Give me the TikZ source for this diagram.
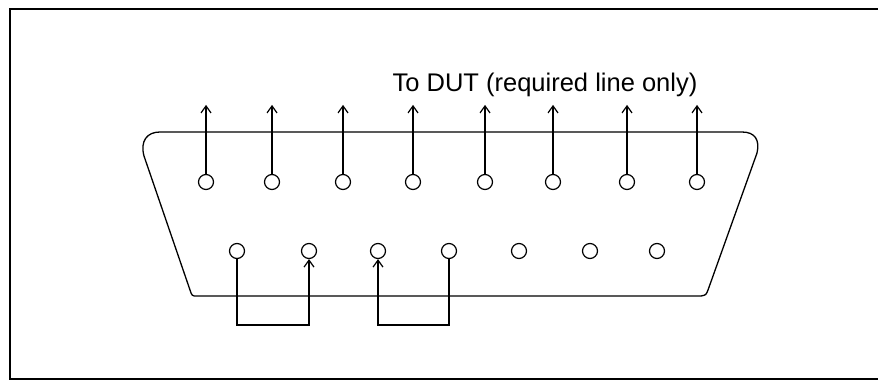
\documentclass[tikz,border=0pt]{standalone}
\usepackage{fontspec}
\setmainfont{Liberation Sans}
\usetikzlibrary{arrows.meta}
\tikzset{
    pin/.style={circle, draw, minimum size=15pt, inner sep=0pt, line width=1.2pt}, % 插针
    wire/.style={line width=1.3pt, -{Straight Barb[length=7pt, width=10pt, line width=1.2pt]}} % 连线
}

\begin{document}
\begin{tikzpicture}[x=1pt, y=-1pt]
            \useasboundingbox (0,0) rectangle (878,382);
            \draw[line width=2.8pt] (884,9) -- (10,9) -- (10,379) -- (884,379);

            % 连接器外形
            \draw[line width=1.3pt] (160,132) -- (742,132) .. controls (755,132) and (760,140) .. (757,153) -- (708,290) .. controls (706,295) .. (701,296)
                -- (197,296) .. controls (192,296) .. (190,290) -- (144,156) .. controls (140,141) and (147,132) .. (160,132) -- cycle;

            \foreach \x [count=\i] in {206,272,343,413,485,553,627,697} {
                \node[pin] (t\i) at (\x,182) {};
                \draw[wire] (t\i.north) -- ++(0,-69);
            }
            \foreach \x [count=\i] in {237,309,378,449,519,590,657} {\node[pin] (b\i) at (\x,251) {};}

            \draw[wire] (b1.south) -- ++(0,66) -| (b2.south);
            \draw[wire] (b4.south) -- ++(0,66) -| (b3.south);

            \node[anchor=base, font=\fontsize{25.5}{30}\selectfont] (dut) at (545,92) {To DUT (required line only)};
        \end{tikzpicture}
\end{document}
